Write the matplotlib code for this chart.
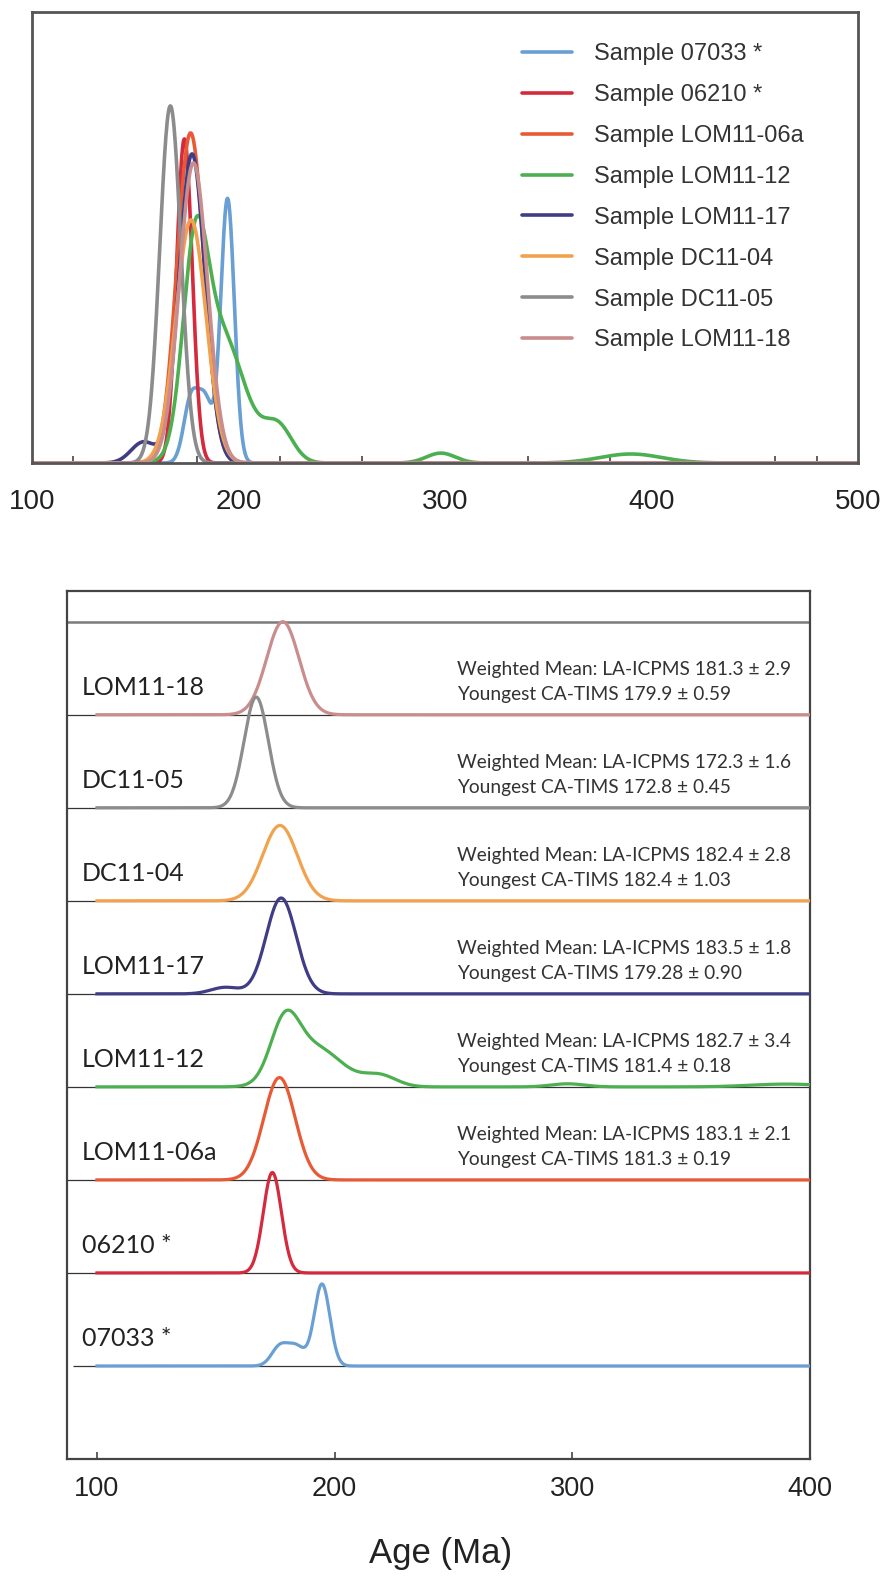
import numpy as np
import matplotlib.pyplot as plt
from matplotlib.ticker import FixedLocator

# samples, bottom to top in the stacked panel (legend order in the top panel)
samples = ['07033 *', '06210 *', 'LOM11-06a', 'LOM11-12', 'LOM11-17', 'DC11-04', 'DC11-05', 'LOM11-18']
colors = ['#6a9fd4', '#d42a3c', '#e85a36', '#4cb050', '#3f3d86', '#f2a24e', '#8c8c8c', '#c98d8e']

# age modes (Ma), their heights (in row units) and widths (Ma)
mode_ages = [[177, 184, 194.7], [173.8], [176.8], [179, 192, 219, 298, 390],
             [154, 177.5], [177], [167], [178.2]]
mode_heights = [[0.21, 0.2, 0.88], [1.08], [1.1], [0.6, 0.42, 0.12, 0.033, 0.03],
                [0.07, 1.03], [0.81], [1.19], [1.0]]
mode_widths = [[3.5, 3.5, 3.3], [3.8], [6.6], [6, 11, 7, 7, 15],
               [6, 6.3], [7.3], [5.1], [6.8]]

# weighted mean / youngest ages, rows 2..7
wm_text = {2: ('183.1', '2.1', '181.3', '0.19'), 3: ('182.7', '3.4', '181.4', '0.18'),
           4: ('183.5', '1.8', '179.28', '0.90'), 5: ('182.4', '2.8', '182.4', '1.03'),
           6: ('172.3', '1.6', '172.8', '0.45'), 7: ('181.3', '2.9', '179.9', '0.59')}


def density(x, ages, heights, widths):
    y = np.zeros_like(x)
    for a, h, w in zip(ages, heights, widths):
        y += h * np.exp(-0.5 * ((x - a) / w) ** 2)
    return y


fig = plt.figure(figsize=(8.85, 15.83), dpi=100)
num_font = ['Liberation Sans', 'DejaVu Sans']
lab_font = ['Lato', 'DejaVu Sans']

# ---- top panel: all samples overlaid
ax1 = fig.add_axes([32 / 885, 1 - 463 / 1583, 826 / 885, 451 / 1583])
xt = np.linspace(100, 500, 2000)
for i in range(len(samples)):
    yt = density(xt, mode_ages[i], mode_heights[i], mode_widths[i])
    ax1.plot(xt, yt, color=colors[i], lw=2.6, label='Sample ' + samples[i], solid_capstyle='round')
ax1.set_xlim(100, 500)
ax1.set_ylim(0, 1.503)
ax1.set_yticks([])
ax1.set_xticks([100, 200, 300, 400, 500])
ax1.xaxis.set_minor_locator(FixedLocator([120, 180, 220, 260, 300, 340, 380, 400, 460, 480]))
ax1.tick_params(axis='x', which='major', length=0, pad=19, labelsize=20, labelcolor='#222')
ax1.tick_params(axis='x', which='minor', direction='in', length=5, width=1.2, color='#444')
for lab in ax1.get_xticklabels():
    lab.set_family(num_font)
for s in ax1.spines.values():
    s.set_color('#555')
    s.set_linewidth(2)
leg = ax1.legend(loc='upper left', bbox_to_anchor=(0.568, 0.978), frameon=False,
                 handlelength=2.1, handletextpad=0.95, labelspacing=0.8,
                 prop={'family': num_font, 'size': 17})
for t in leg.get_texts():
    t.set_color('#333')

# ---- bottom panel: stacked rows
ax2 = fig.add_axes([67 / 885, 1 - 1459 / 1583, 743 / 885, 868 / 1583])
xb = np.linspace(100, 400, 1500)
ax2.hlines(range(1, 8), 87.4, 400, color='#333', lw=0.9, zorder=1)
ax2.hlines(0, 90, 400, color='#333', lw=0.9, zorder=1)
ax2.hlines(8, 87.4, 400, color='#7a7a7a', lw=1.8, zorder=1)
for i in reversed(range(len(samples))):
    yb = density(xb, mode_ages[i], mode_heights[i], mode_widths[i])
    ax2.plot(xb, i + yb, color=colors[i], lw=2.3, zorder=2 + (8 - i))
    ax2.text(93.7, i + 0.29, samples[i], ha='left', va='center', fontsize=18,
             family=lab_font, color='#222', zorder=20)
    if i in wm_text:
        m, me, y, ye = wm_text[i]
        ax2.text(251.5, i + 0.49, 'Weighted Mean: LA-ICPMS %s \u00b1 %s' % (m, me),
                 ha='left', va='center', fontsize=13.8, family=lab_font, color='#333', zorder=20)
        ax2.text(251.5, i + 0.215, 'Youngest CA-TIMS %s \u00b1 %s' % (y, ye),
                 ha='left', va='center', fontsize=13.8, family=lab_font, color='#333', zorder=20)
ax2.set_xlim(87.4, 400)
ax2.set_ylim(-1.0, 8.33)
ax2.set_yticks([])
ax2.set_xticks([100, 200, 300, 400])
ax2.tick_params(axis='x', direction='in', length=5, width=1.2, color='#444',
                pad=12, labelsize=19.5, labelcolor='#222')
for lab in ax2.get_xticklabels():
    lab.set_family(num_font)
for s in ax2.spines.values():
    s.set_color('#444')
    s.set_linewidth(1.6)

fig.text(441 / 885, 1 - 1554 / 1583, 'Age (Ma)', ha='center', va='center',
         fontsize=25, family=num_font, color='#222')

fig.savefig('out.png', dpi=100)
